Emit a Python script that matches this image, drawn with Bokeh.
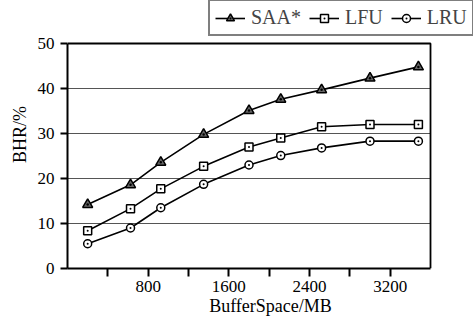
from bokeh.plotting import figure
from bokeh.models import FixedTicker, Legend, LegendItem, Range1d
from bokeh.embed import file_html
from bokeh.resources import INLINE

buffer_mb = [200, 625, 925, 1350, 1800, 2115, 2520, 3000, 3480]
saa = [14.2, 18.6, 23.6, 29.8, 35.1, 37.6, 39.7, 42.3, 44.8]
lfu = [8.4, 13.3, 17.7, 22.7, 27.0, 29.0, 31.5, 32.0, 32.0]
lru = [5.5, 9.0, 13.5, 18.7, 23.0, 25.1, 26.8, 28.3, 28.3]
x_ticks = [400, 800, 1200, 1600, 2000, 2400, 2800, 3200]
x_labels = {400: "", 800: "800", 1200: "", 1600: "1600", 2000: "", 2400: "2400", 2800: "", 3200: "3200"}
y_ticks = [0, 10, 20, 30, 40, 50]
X_MAX, Y_MAX = 3600, 50

FONT = "Liberation Serif"

# frame extends to top/right canvas edges so the legend can sit above the axes box
p = figure(width=473, height=322, output_backend="svg", toolbar_location=None,
           x_range=Range1d(0, X_MAX * 406 / 363), y_range=Range1d(0, Y_MAX * 268 / 225),
           min_border_left=67, min_border_right=0, min_border_top=0, min_border_bottom=54)

p.outline_line_color = None
p.xgrid.grid_line_color = None
p.ygrid.grid_line_color = None

# horizontal grid lines and the top/right box edges limited to the data area
grid_vals = y_ticks[1:-1]
p.segment(x0=[0] * len(grid_vals), x1=[X_MAX] * len(grid_vals), y0=grid_vals, y1=grid_vals,
          line_color="#555555", line_width=1)
p.line([0, X_MAX, X_MAX], [Y_MAX, Y_MAX, 0], line_color="black", line_width=1.8)

p.xaxis.ticker = FixedTicker(ticks=x_ticks)
p.xaxis.major_label_overrides = x_labels
p.yaxis.ticker = FixedTicker(ticks=y_ticks)
p.xaxis.bounds = (0, X_MAX)
p.yaxis.bounds = (0, Y_MAX)

for ax in (p.xaxis, p.yaxis):
    ax.axis_line_width = 2
    ax.axis_line_color = "black"
    ax.major_tick_line_width = 2
    ax.major_tick_line_color = "black"
    ax.major_tick_in = 0
    ax.minor_tick_line_color = None
    ax.major_label_text_font = FONT
    ax.major_label_text_font_size = "17px"
    ax.major_label_text_color = "black"
    ax.axis_label_text_font = FONT
    ax.axis_label_text_font_size = "18px"
    ax.axis_label_text_font_style = "normal"
    ax.axis_label_text_color = "black"

p.xaxis.major_tick_out = 8
p.xaxis.major_label_standoff = 4
p.xaxis.axis_label = "BufferSpace/MB"
p.xaxis.axis_label_standoff = 1
p.yaxis.major_tick_out = 7
p.yaxis.major_label_standoff = 6
p.yaxis.axis_label = "BHR/%"
p.yaxis.axis_label_standoff = 5

items = []
for label, ys, marker, fill, size in [("SAA*", saa, "triangle_dot", "#666666", 10),
                                      ("LFU", lfu, "square_dot", "white", 8),
                                      ("LRU", lru, "circle_dot", "white", 8)]:
    ln = p.line(buffer_mb, ys, line_color="black", line_width=1.6)
    sc = p.scatter(buffer_mb, ys, marker=marker, size=size,
                   fill_color=fill, line_color="black", line_width=1.5)
    items.append(LegendItem(label=label, renderers=[ln, sc]))

legend = Legend(items=items, orientation="horizontal", location=(141, 232),
                border_line_color="black", border_line_width=2,
                background_fill_color="white", background_fill_alpha=1,
                label_text_font=FONT, label_text_font_size="20px",
                label_standoff=6, glyph_width=30, glyph_height=20,
                spacing=8, padding=5, margin=0)
p.add_layout(legend, "center")

open("out.html", "w").write(file_html(p, INLINE))
